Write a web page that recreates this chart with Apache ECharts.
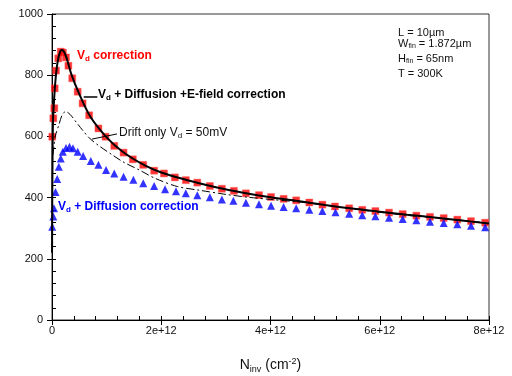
<!DOCTYPE html>
<html><head><meta charset="utf-8">
<script src="https://cdn.jsdelivr.net/npm/echarts@6/dist/echarts.min.js"></script>
<style>html,body{margin:0;padding:0;background:#fff}#c{width:512px;height:376px}</style>
</head><body><div id="c"></div>
<script>
// x values in units of 1e12 cm^-2, y values in cm^2/Vs
const redX = [0.005,0.024,0.042,0.05,0.073,0.115,0.16,0.20,0.256,0.30,0.37,0.47,0.56,0.68,0.85,0.98,1.14,1.31,1.48,1.67,1.87,2.05,2.25,2.45,2.66,2.89,3.11,3.33,3.55,3.79,4.01,4.24,4.47,4.71,4.95,5.18,5.44,5.68,5.92,6.17,6.42,6.67,6.92,7.17,7.42,7.67,7.93];
const redY = [599,659,692,757,815,855,877,874,858,831,790,746,708,669,626,599,569,547,525,507,488,479,466,457,449,438,429,422,414,408,402,396,391,384,377,371,365,360,356,351,346,341,337,333,328,323,318];

const blueX = [0.005,0.024,0.037,0.064,0.095,0.125,0.16,0.198,0.256,0.32,0.385,0.47,0.57,0.71,0.85,0.99,1.14,1.31,1.49,1.67,1.87,2.07,2.27,2.45,2.66,2.89,3.11,3.32,3.55,3.79,4.01,4.24,4.47,4.71,4.95,5.19,5.44,5.68,5.92,6.17,6.42,6.67,6.92,7.17,7.42,7.67,7.93];
const blueY = [305,338,365,418,461,501,528,550,562,566,561,550,536,520,507,490,479,468,458,447,438,427,421,414,408,401,394,390,383,378,373,369,365,360,356,352,347,342,339,334,330,326,321,317,313,308,303];

const solidX = [0.001,0.005,0.01,0.018,0.04,0.067,0.1,0.14,0.18,0.25,0.35,0.5,0.7,1.0,1.3,1.7,2.0,2.5,3.0,3.5,4.0,4.5,5.0,5.5,6.0,6.5,7.0,7.5,8.0];
const solidY = [220,400,530,650,725,790,840,872,882,865,805,738,665,597,549,505,482,456,434,416,401,389,376,364,354,344,335,325,315];

const dashX = [0.02,0.06,0.13,0.19,0.25,0.33,0.45,0.57,0.7,0.87,1.1,1.3,1.6,1.9,2.3,2.7,3.2,3.6,4.0,4.5,5.0,5.5,6.0,6.5,7.0,7.5,8.0];
const dashY = [540,600,640,672,681,672,645,618,592,568,540,517,490,462,436,424,410,401,394,386,375,363,352,342,334,326,317];

const xTicks = [0,2,4,6,8];
const yTicks = [0,200,400,600,800,1000];

const zip = (a,b) => a.map((v,i)=>[v,b[i]]);
const FONT = 'Liberation Sans, Arial, sans-serif';

const chart = echarts.init(document.getElementById('c'), null, {renderer:'canvas'});
const option = {
  animation:false,
  grid:{left:52,right:23,top:14,bottom:56,containLabel:false,outerBoundsMode:'none',show:true,borderColor:'#333',borderWidth:1},
  xAxis:[
    {type:'value',min:xTicks[0],max:xTicks[xTicks.length-1],interval:2,
     axisLine:{show:true,onZero:false,lineStyle:{color:'#000',width:1}},
     axisTick:{show:true,inside:false,length:5,lineStyle:{color:'#000'}},
     axisLabel:{margin:5,color:'#111',fontSize:11,fontFamily:FONT,formatter:v=>v===0?'0':v+'e+12'},
     splitLine:{show:false},
     name:'{a|N}{s|inv}{a| (cm}{p|-2}{a|)}',nameLocation:'middle',nameGap:37,
     nameTextStyle:{rich:{a:{fontSize:14,fontFamily:FONT,color:'#111'},s:{fontSize:9,fontFamily:FONT,color:'#111',padding:[8,0,0,0]},p:{fontSize:9,fontFamily:FONT,color:'#111',padding:[0,0,8,0]}}}
    },
    {type:'value',min:0,max:8,interval:0.4,position:'bottom',
     axisLine:{show:false},axisTick:{show:true,inside:true,length:4,lineStyle:{color:'#000'}},
     axisLabel:{show:false},splitLine:{show:false}}
  ],
  yAxis:[
    {type:'value',min:yTicks[0],max:yTicks[yTicks.length-1],interval:200,
     axisLine:{show:true,onZero:false,lineStyle:{color:'#000',width:1}},
     axisTick:{show:true,inside:false,length:5,lineStyle:{color:'#000'}},
     axisLabel:{margin:9,color:'#111',fontSize:11,fontFamily:FONT,formatter:v=>String(v)},
     splitLine:{show:false}},
    {type:'value',min:0,max:1000,interval:40,position:'left',
     axisLine:{show:false},axisTick:{show:true,inside:true,length:4,lineStyle:{color:'#000'}},
     axisLabel:{show:false},splitLine:{show:false}}
  ],
  series:[
    {name:'Vd correction',type:'scatter',data:zip(redX,redY),symbol:'rect',symbolSize:7,
     itemStyle:{color:'#ff0000',borderColor:'rgba(255,80,80,0.5)',borderWidth:1},z:2},
    {name:'Vd + Diffusion correction',type:'scatter',data:zip(blueX,blueY),symbol:'triangle',symbolSize:[8,8],
     itemStyle:{color:'#0000ff'},z:3},
    {name:'Drift only',type:'line',data:zip(dashX,dashY),smooth:0.3,showSymbol:false,symbol:'none',
     lineStyle:{color:'#000',width:1,type:[8,3,2,3]},z:4,
     markLine:{silent:true,symbol:'none',label:{show:false},lineStyle:{color:'#000',width:1,type:'solid'},
       data:[[{coord:[0.73,591]},{coord:[1.19,608]}]]}},
    {name:'Vd + Diffusion + E-field',type:'line',data:zip(solidX,solidY),smooth:0.3,showSymbol:false,symbol:'none',
     lineStyle:{color:'#000',width:2},z:5,
     markLine:{silent:true,symbol:'none',label:{show:false},lineStyle:{color:'#000',width:1.5,type:'solid'},
       data:[[{coord:[0.58,730]},{coord:[0.83,730]}]]}}
  ],
  graphic:[
    {type:'text',left:77,top:50,style:{text:'{a|V}{s|d}{a| correction}',
      rich:{a:{fontSize:12,fontWeight:'bold',fontFamily:FONT,fill:'#ff0000'},s:{fontSize:8,fontWeight:'bold',fontFamily:FONT,fill:'#ff0000',padding:[6,0,0,0]}}}},
    {type:'text',left:98,top:89,style:{text:'{a|V}{s|d}{a| + Diffusion +E-field correction}',
      rich:{a:{fontSize:12,fontWeight:'bold',fontFamily:FONT,fill:'#000'},s:{fontSize:8,fontWeight:'bold',fontFamily:FONT,fill:'#000',padding:[6,0,0,0]}}}},
    {type:'text',left:119,top:127,style:{text:'{a|Drift only V}{s|d}{a| = 50mV}',
      rich:{a:{fontSize:12,fontFamily:FONT,fill:'#111'},s:{fontSize:8,fontFamily:FONT,fill:'#111',padding:[6,0,0,0]}}}},
    {type:'text',left:58,top:201,style:{text:'{a|V}{s|d}{a| + Diffusion correction}',
      rich:{a:{fontSize:12,fontWeight:'bold',fontFamily:FONT,fill:'#0000ff'},s:{fontSize:8,fontWeight:'bold',fontFamily:FONT,fill:'#0000ff',padding:[6,0,0,0]}}}},
    {type:'text',left:398,top:27,style:{text:'L = 10µm',fontSize:11,fontFamily:FONT,fill:'#111'}},
    {type:'text',left:398,top:38,style:{text:'{a|W}{s|fin}{a| = 1.872µm}',
      rich:{a:{fontSize:11,fontFamily:FONT,fill:'#111'},s:{fontSize:7,fontFamily:FONT,fill:'#111',padding:[6,0,0,0]}}}},
    {type:'text',left:398,top:53,style:{text:'{a|H}{s|fin}{a| = 65nm}',
      rich:{a:{fontSize:11,fontFamily:FONT,fill:'#111'},s:{fontSize:7,fontFamily:FONT,fill:'#111',padding:[6,0,0,0]}}}},
    {type:'text',left:398,top:68,style:{text:'T = 300K',fontSize:11,fontFamily:FONT,fill:'#111'}}
  ]
};
chart.setOption(option);
</script></body></html>
